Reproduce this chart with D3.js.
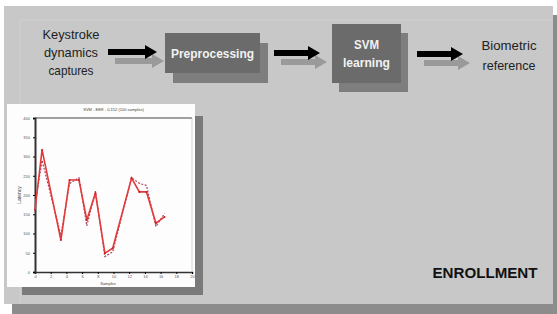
<!DOCTYPE html>
<html><head><meta charset="utf-8">
<script src="https://cdn.jsdelivr.net/npm/d3@7"></script>
<style>
html,body{margin:0;padding:0;background:#fff;}
svg{display:block;}
text{font-family:"Liberation Sans Narrow","Arial Narrow","Liberation Sans",sans-serif;}
</style></head>
<body>
<svg id="c" width="557" height="314"></svg>
<script>
// ---- data ----
const inputLabel = ["Keystroke", "dynamics", "captures"];
const stepLabels = [["Preprocessing"], ["SVM", "learning"]];
const outputLabel = ["Biometric", "reference"];
const phaseLabel = "ENROLLMENT";
const plotTitle = "SVM - EER - 0.152 (100 samples)";
const yTicks = [0, 50, 100, 150, 200, 250, 300, 350, 400];
const xTicks = [0, 2, 4, 6, 8, 10, 12, 14, 16, 18, 20];
const seriesX = [0, 0.9, 3.3, 4.4, 5.6, 6.6, 7.7, 8.9, 9.9, 12.3, 13.3, 14.2, 15.4, 16.5];
const seriesA = [161, 317, 83, 239, 239, 135, 205, 49, 62, 244, 208, 208, 127, 143];
const seriesB = [175, 290, 95, 230, 245, 120, 210, 40, 52, 245, 230, 225, 118, 152];

const svg = d3.select("#c");

function label(x, y, t, size, fill, weight, width) {
  const el = svg.append("text").attr("x", x).attr("y", y).attr("dy", "0.35em").attr("text-anchor", "middle")
    .attr("fill", fill).attr("font-size", size).attr("font-weight", weight).text(t);
  if (width) el.attr("textLength", width).attr("lengthAdjust", "spacingAndGlyphs");
  return el;
}

// main panel with shadow
svg.append("rect").attr("x", 12).attr("y", 15).attr("width", 545).attr("height", 299).attr("fill", "#8c8c8c");
svg.append("rect").attr("x", 4).attr("y", 6).attr("width", 549).attr("height", 298).attr("fill", "#c8c8c8");
svg.append("path").attr("d", "M20,304V20H553").attr("fill", "none").attr("stroke", "#d0d0d0").attr("stroke-width", 1);

// arrows
function arrow(x0, x1, y, color) {
  const h = 7, hl = 12, s = 3;
  svg.append("path")
    .attr("d", `M${x0},${y - s}H${x1 - hl}V${y - h}L${x1},${y}L${x1 - hl},${y + h}V${y + s}H${x0}Z`)
    .attr("fill", color);
}
const arrows = [[108, 157, 52], [274, 320, 53], [417, 463, 54]];
arrows.forEach(a => arrow(a[0] + 7, a[1] + 7, a[2] + 9, "#9a9a9a"));
arrows.forEach(a => arrow(a[0], a[1], a[2], "#000"));

// step boxes
const boxes = [
  {x: 165, y: 33, w: 95, h: 40, dx: 8, dy: 10, tw: [83]},
  {x: 332, y: 24, w: 69, h: 59, dx: 7, dy: 9, tw: [25, 47]}
];
boxes.forEach((b, i) => {
  svg.append("rect").attr("x", b.x + b.dx).attr("y", b.y + b.dy).attr("width", b.w).attr("height", b.h).attr("fill", "#7e7e7e");
  svg.append("rect").attr("x", b.x).attr("y", b.y).attr("width", b.w).attr("height", b.h).attr("fill", "#6b6b6b");
  const lines = stepLabels[i];
  const lh = 18;
  lines.forEach((t, j) => {
    label(b.x + b.w / 2, b.y + b.h / 2 + (j - (lines.length - 1) / 2) * lh, t, 13, "#f2f2f2", "bold", b.tw[j]);
  });
});

// input / output labels
const inW = [57, 54, 45];
inputLabel.forEach((t, j) => label(71, 34 + j * 18, t, 13, "#222", "normal", inW[j]));
const outW = [55, 53];
outputLabel.forEach((t, j) => label(509, 45 + j * 20, t, 13, "#222", "normal", outW[j]));
label(485, 273, phaseLabel, 15, "#111", "bold", 105);

// inset plot with shadow
svg.append("rect").attr("x", 22).attr("y", 116).attr("width", 181).attr("height", 179).attr("fill", "#7a7a7a");
svg.append("rect").attr("x", 7).attr("y", 104).attr("width", 188).attr("height", 183).attr("fill", "#fdfdfd");

const pl = 35, pr = 192, pt = 118, pb = 272;
const x = d3.scaleLinear().domain([0, 20]).range([pl, pr]);
const y = d3.scaleLinear().domain([0, 400]).range([pb, pt]);
const g = svg.append("g");
g.append("g").attr("transform", `translate(0,${pb})`)
  .call(d3.axisBottom(x).tickValues(xTicks).tickSize(2).tickPadding(1).tickFormat(d => d))
  .call(s => s.selectAll("text").attr("font-size", 4).attr("fill", "#555"))
  .call(s => s.select(".domain").attr("stroke", "#333").attr("stroke-width", 1.5));
g.append("g").attr("transform", `translate(${pl},0)`)
  .call(d3.axisLeft(y).tickValues(yTicks).tickSize(2))
  .call(s => s.selectAll("text").attr("font-size", 4).attr("fill", "#555"))
  .call(s => s.select(".domain").attr("stroke", "#333").attr("stroke-width", 2));
g.append("line").attr("x1", pl).attr("x2", pr).attr("y1", pt).attr("y2", pt).attr("stroke", "#444").attr("stroke-width", 1.2);
g.append("line").attr("x1", pr).attr("x2", pr).attr("y1", pt).attr("y2", pb).attr("stroke", "#bbb").attr("stroke-width", 0.6);
g.append("text").attr("x", (pl + pr) / 2).attr("y", 111).attr("text-anchor", "middle").attr("font-size", 4).attr("fill", "#444").text(plotTitle);
g.append("text").attr("transform", `translate(21,${(pt + pb) / 2}) rotate(-90)`).attr("text-anchor", "middle").attr("font-size", 5).attr("fill", "#444").text("Latency");
g.append("text").attr("x", 108).attr("y", 285).attr("text-anchor", "middle").attr("font-size", 4).attr("fill", "#444").text("Samples");

const line = d3.line().x((d, i) => x(seriesX[i])).y(d => y(d));
g.append("path").datum(seriesB).attr("d", line).attr("fill", "none").attr("stroke", "#b04060").attr("stroke-width", 1.2).attr("stroke-dasharray", "2,1.5");
g.append("path").datum(seriesA).attr("d", line).attr("fill", "none").attr("stroke", "#e23a3a").attr("stroke-width", 1.6);
g.selectAll("circle.a").data(seriesA).join("circle").attr("cx", (d, i) => x(seriesX[i])).attr("cy", d => y(d)).attr("r", 1).attr("fill", "#c02020");
</script>
</body></html>
